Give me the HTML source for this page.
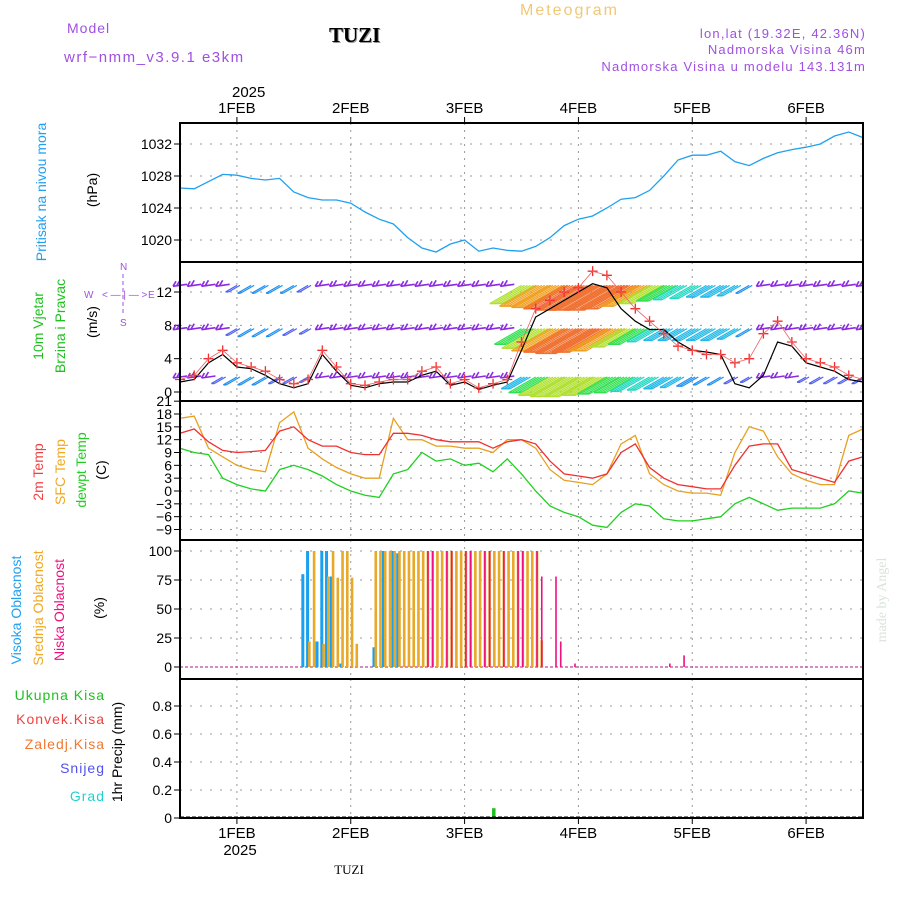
<!DOCTYPE html>
<html><head><meta charset="utf-8"><style>
body{margin:0;background:#fff;}
svg{display:block;font-family:"Liberation Sans",sans-serif;}
</style></head><body>
<svg id="c" width="900" height="900" viewBox="0 0 900 900">
<g id="hdr">
<text x="67" y="33" font-size="14" fill="#a050e0" letter-spacing="1">Model</text>
<text x="64" y="62" font-size="15" fill="#a050e0" letter-spacing="1.5">wrf−nmm_v3.9.1 e3km</text>
<text x="330" y="43" font-size="21" font-weight="bold" font-family="Liberation Serif" fill="#999">TUZI</text>
<text x="329" y="42" font-size="21" font-weight="bold" font-family="Liberation Serif" fill="#000">TUZI</text>
<text x="520" y="15" font-size="16" fill="#f0c878" letter-spacing="2">Meteogram</text>
<text x="866" y="38" font-size="13" fill="#a050e0" text-anchor="end" letter-spacing="1.2">lon,lat (19.32E, 42.36N)</text>
<text x="866" y="54" font-size="13" fill="#a050e0" text-anchor="end" letter-spacing="1.2">Nadmorska Visina 46m</text>
<text x="866" y="71" font-size="13" fill="#a050e0" text-anchor="end" letter-spacing="1.2">Nadmorska Visina u modelu 143.131m</text>
<text x="232" y="97" font-size="15">2025</text>
<text x="240" y="855" font-size="15" text-anchor="middle">2025</text>
<text x="349" y="874" font-size="13" font-family="Liberation Serif" text-anchor="middle">TUZI</text>
<text transform="translate(886,600) rotate(-90)" font-size="14" font-family="Liberation Serif" fill="#d8e4d8" text-anchor="middle">made by Angel</text>
</g>
<g id="labels" font-size="14">
<text transform="translate(46,192) rotate(-90)" fill="#20a0f0" text-anchor="middle">Pritisak na nivou mora</text>
<text transform="translate(97,190) rotate(-90)" text-anchor="middle">(hPa)</text>
<text transform="translate(43,326) rotate(-90)" fill="#20c020" text-anchor="middle">10m Vjetar</text>
<text transform="translate(65,326) rotate(-90)" fill="#20c020" text-anchor="middle">Brzina i Pravac</text>
<text transform="translate(97,322) rotate(-90)" text-anchor="middle">(m/s)</text>
<g fill="#a050e0" font-size="10">
<text x="120" y="270">N</text><text x="120" y="326">S</text><text x="84" y="298">W</text><text x="148" y="298">E</text>
<text x="102" y="298">&lt; — | — &gt;</text><line x1="123" y1="274" x2="123" y2="316" stroke="#a050e0" stroke-dasharray="4 3"/>
</g>
<text transform="translate(43,472) rotate(-90)" fill="#f04040" text-anchor="middle">2m Temp</text>
<text transform="translate(65,472) rotate(-90)" fill="#f0a820" text-anchor="middle">SFC Temp</text>
<text transform="translate(86,470) rotate(-90)" fill="#20d020" text-anchor="middle">dewpt Temp</text>
<text transform="translate(106,470) rotate(-90)" text-anchor="middle">(C)</text>
<text transform="translate(21,610) rotate(-90)" fill="#20a0f0" text-anchor="middle">Visoka Oblacnost</text>
<text transform="translate(43,608) rotate(-90)" fill="#f0a820" text-anchor="middle">Srednja Oblacnost</text>
<text transform="translate(64,610) rotate(-90)" fill="#f01080" text-anchor="middle">Niska Oblacnost</text>
<text transform="translate(104,608) rotate(-90)" text-anchor="middle">(%)</text>
<text x="105" y="700" fill="#20c020" text-anchor="end" letter-spacing="1">Ukupna Kisa</text>
<text x="105" y="724" fill="#f04040" text-anchor="end" letter-spacing="1">Konvek.Kisa</text>
<text x="105" y="749" fill="#f07830" text-anchor="end" letter-spacing="1">Zaledj.Kisa</text>
<text x="105" y="773" fill="#5050f0" text-anchor="end" letter-spacing="1">Snijeg</text>
<text x="105" y="801" fill="#20d0d0" text-anchor="end" letter-spacing="1">Grad</text>
<text transform="translate(122,752) rotate(-90)" text-anchor="middle">1hr Precip (mm)</text>
</g>
<g id="plot"></g>
</svg>
<script>
// 3-hourly data from 31 Jan 12:00 to 6 Feb 12:00 (49 points)
const dayLabels = ["1FEB","2FEB","3FEB","4FEB","5FEB","6FEB"];
const pressure = [1026.5,1026.4,1027.3,1028.2,1028.1,1027.7,1027.5,1027.7,1026,1025.3,1025,1025,1024.6,1023.5,1022.6,1022,1020.3,1019,1018.5,1019.5,1020,1018.6,1019,1018.7,1018.6,1019.2,1020.3,1021.8,1022.6,1023,1024,1025.1,1025.3,1026.2,1028,1030,1030.6,1030.6,1031.1,1029.8,1029.3,1030.2,1030.9,1031.3,1031.6,1032,1033,1033.5,1032.8];
const pressureTicks = [1020,1024,1028,1032];
const gust = [1.5,2,4,5,3.5,3,2.5,1.5,1,1.5,5,3,1,0.8,1.2,1.5,1.5,2.5,3,1,1.5,0.5,1,1.5,6,10,11,12,12.5,14.5,14,12,10,8.5,7,5.5,5,4.5,4.5,3.5,4,7,8.5,6,4,3.5,3,2,1.5];
const windSpd = [1.2,1.5,3.5,4.5,3,2.8,2,1,0.5,1,4.5,2.5,0.8,0.5,1,1.2,1.2,2,2.5,0.8,1.2,0.3,0.8,1.2,5,9,10,11,12,13,12.5,10,8.5,7.5,7.5,6,5,4.8,4.5,1,0.5,2,6,5.5,3.5,3,2.5,1.5,1.2];
const windRow1 = [2,2,3,2,5,6,6,6,6,5,3,2,2,2,2,2,2,2,2,2,2,2,3,2,14,16,17,18,19,19,19,18,16,14,12,11,10,9,9,8,6,3,2,2,3,3,2,2,2];
const windRow2 = [2,2,3,2,5,6,6,6,5,4,2,2,2,2,2,2,2,2,2,2,2,2,2,3,12,15,17,18,19,18,17,14,12,10,9,9,9,9,9,8,6,3,2,2,2,3,2,2,2];
const windRow3 = [2,2,3,5,6,6,6,5,5,4,2,2,2,2,2,2,2,2,2,2,2,2,2,3,9,12,14,15,15,14,13,12,11,10,9,8,7,6,6,5,4,2,2,3,4,5,5,5,5];
const windTicks = [0,4,8,12];
const t2m = [13.5,14.5,11.5,9.5,9,9.2,9.5,14,15,12,10.5,10.5,9,8.5,8.5,13.5,13.5,13,12,11.5,11.5,11.5,10,11.5,12,11,7,4,3.5,3,4,9,11,5.5,3,1.5,1,0.5,0.5,6,10.5,11,11,5,4,3,2,7,8];
const tsfc = [17,17.5,10,8,6,5,4.5,16,18.5,10,7.5,5.5,4,3,3,17,12,12,10.5,10.5,10,10,9,12,12,10,5,2.5,2,1.5,4,11,13,4,1.5,0,-0.5,-0.5,-1,9,15,14,8,4,2.5,1.5,1.5,13,14.5];
const dewpt = [10,9,8.5,3,1.5,0.5,0,5,6,5,3.5,1.5,0,-1,-1.5,4,5,9,7,7.5,6,6.5,4.5,7.5,4,0,-3.5,-5,-6,-8,-8.5,-5,-3,-3.5,-6.5,-7,-7,-6.5,-6,-3,-1.5,-3,-4.5,-4,-4,-4,-3,0,-0.5];
const tempTicks = [-9,-6,-3,0,3,6,9,12,15,18,21];
// hourly cloud bars: [hour, percent]
const highCloud = [[26,80],[27,100],[29,22],[30,100],[31,100],[32,78],[34,3],[41,17],[43,100],[45,100],[46,98]];
const midCloud = [[27,22],[28,100],[30,20],[31,78],[32,100],[33,77],[34,100],[35,100],[36,77],[37,20],[41,100],[42,100],[43,100],[44,100],[45,100],[46,100],[47,100],[48,100],[49,100],[50,100],[51,100],[52,100],[53,100],[54,100],[55,100],[56,100],[57,100],[58,100],[59,100],[60,100],[61,100],[62,100],[63,100],[64,100],[65,100],[66,100],[67,100],[68,100],[69,100],[70,100],[71,100],[72,100],[73,100],[74,100],[75,100],[76,23]];
const lowCloud = [[52,100],[53,100],[56,100],[57,100],[60,100],[61,100],[64,100],[65,100],[68,100],[71,100],[72,100],[75,100],[76,78],[79,78],[80,22],[83,3],[103,3],[106,10]];
const cloudTicks = [0,25,50,75,100];
const precip = [[66,0.07]];
const precipTicks = [0,0.2,0.4,0.6,0.8];

const NS='http://www.w3.org/2000/svg';
const plot=document.getElementById('plot');
const X0=180,X1=863;
const xH=h=>X0+h*(X1-X0)/144;
const xI=i=>xH(i*3);
function el(tag,attrs,parent){const e=document.createElementNS(NS,tag);for(const k in attrs)e.setAttribute(k,attrs[k]);(parent||plot).appendChild(e);return e;}
function lin(d0,d1,p0,p1){return v=>p0+(v-d0)*(p1-p0)/(d1-d0);}
const panels=[
 {name:'pressure',top:123,bot:262,y:lin(1020,1032,240,144),ticks:pressureTicks,fmt:v=>v},
 {name:'wind',top:262,bot:401,y:lin(0,12,392,292),ticks:windTicks,fmt:v=>v},
 {name:'temperature',top:401,bot:540,y:lin(0,18,491,414),ticks:tempTicks,fmt:v=>String(v).replace('-','−')},
 {name:'cloud',top:540,bot:679,y:lin(0,100,667,551),ticks:cloudTicks,fmt:v=>v},
 {name:'precip',top:679,bot:818,y:lin(0,0.8,818,706),ticks:precipTicks,fmt:v=>v===0?'0':String(v)}
];
panels.forEach(p=>{
 const g=el('g',{});
 
 
 dayLabels.forEach((d,i)=>{const x=xH(12+24*i);
  const gl=el('line',{x1:x,x2:x,y1:p.top,y2:p.bot,stroke:'#999','stroke-dasharray':'2 5'},g);
  
  });
 p.ticks.forEach(t=>{const y=p.y(t);
  const gl=el('line',{x1:X0,x2:X1,y1:y,y2:y,stroke:'#999','stroke-dasharray':'2 8'},g);
  
  
  el('line',{x1:X0-6,x2:X0,y1:y,y2:y,stroke:'#000'},g);
  const tx=el('text',{x:X0-8,y:y+5,'font-size':14,'text-anchor':'end'},g);
  tx.textContent=p.fmt(t);
  
  });
 p.g=g;
});
function path(arr,yf,color,name,w){
 const d=arr.map((v,i)=>(i?'L':'M')+xI(i).toFixed(1)+','+yf(v).toFixed(1)).join('');
 const e=el('path',{d:d,fill:'none',stroke:color,'stroke-width':w||1.3});
 
 
 return e;}
path(pressure,panels[0].y,'#20a0f0','pressure-line');
// wind barbs
function spdColor(s){const c=['#8a2be2','#8a2be2','#5060f0','#2090f0','#20b8e8','#20d8c0','#30e050','#b0e030','#f0a020','#f07030','#f02080'];return c[Math.min(10,Math.floor(s/2))];}
const wy=panels[1].y;
[[windRow1,12.8],[windRow2,7.6],[windRow3,1.8]].forEach((row,ri)=>{
 const g=el('g',{});
 
 
 row[0].forEach((s,i)=>{
  const x=xI(i),y=wy(row[1]);
  const col=spdColor(s);
  if(s<4){
   el('path',{d:`M${x-7},${y+1}L${x+7},${y-1}M${x-7},${y+1}l3,-5M${x-3},${y}l3,-5`,stroke:col,'stroke-width':1.6,fill:'none'},g);
  } else {
   const L=2.6*s, n=Math.max(2,Math.round(s/2.5));
   for(let k=0;k<n;k++){const sx=x+k*3;
    el('line',{x1:sx,y1:y,x2:sx-L*0.87,y2:y+L*0.5,stroke:col,'stroke-width':1.2},g);}
   el('line',{x1:x-L*0.87,y1:y+L*0.5,x2:x+3*(n-1)-L*0.87,y2:y+L*0.5,stroke:col,'stroke-width':1.5},g);
  }
 });
});
const wl=path(windSpd,wy,'#000','wind-speed-line',1.2);
const gg=el('g',{});


path(gust,wy,'#f06060','gust-line',0.8);
gust.forEach((v,i)=>{const x=xI(i),y=wy(v);
 el('path',{d:`M${x-5},${y}H${x+5}M${x},${y-5}V${y+5}`,stroke:'#f03030','stroke-width':1.3},gg);});
// temperature
path(tsfc,panels[2].y,'#e8a020','sfc-temp-line');
path(t2m,panels[2].y,'#f03030','t2m-line');
path(dewpt,panels[2].y,'#20d020','dewpt-line');
// clouds
const cy=panels[3].y;
el('line',{x1:X0,x2:X1,y1:cy(0),y2:cy(0),stroke:'#c040a0','stroke-width':1.2,'stroke-dasharray':'3 2'});
function bars(data,yf,color,w,name,off){const g=el('g',{});
 
 
 data.forEach(([h,v])=>{const x=xH(h)+off;
  const r=el('rect',{x:x,y:yf(v),width:w,height:yf(0)-yf(v),fill:color},g);
  
  });}
bars(highCloud,cy,'#1aa0f0',3,'high-cloud',-2);
bars(midCloud,cy,'#e8a828',2.6,'mid-cloud',0);
bars(lowCloud,cy,'#f01080',1.6,'low-cloud',0.5);
// precip
bars(precip,panels[4].y,'#20c020',3.5,'total-precip',-1);
el('line',{x1:X0,x2:X1,y1:817,y2:817,stroke:'#000','stroke-width':1,'stroke-dasharray':'4 2'});
// mask overflow of wind barbs outside panel
el('rect',{x:X1+1,y:262,width:40,height:139,fill:'#fff'});
el('rect',{x:X0-60,y:262,width:59,height:139,fill:'none'});
// frames
panels.forEach(p=>{el('rect',{x:X0,y:p.top,width:X1-X0,height:p.bot-p.top,fill:'none',stroke:'#000','stroke-width':2});});
// date labels & ticks
dayLabels.forEach((d,i)=>{const x=xH(12+24*i);
 el('line',{x1:x,x2:x,y1:117,y2:123,stroke:'#000'});
 el('line',{x1:x,x2:x,y1:818,y2:824,stroke:'#000'});
 const t=el('text',{x:x,y:113,'font-size':15,'text-anchor':'middle'});t.textContent=d;
 
 
 const b=el('text',{x:x,y:838,'font-size':15,'text-anchor':'middle'});b.textContent=d;
 
 });
</script>
</body></html>
